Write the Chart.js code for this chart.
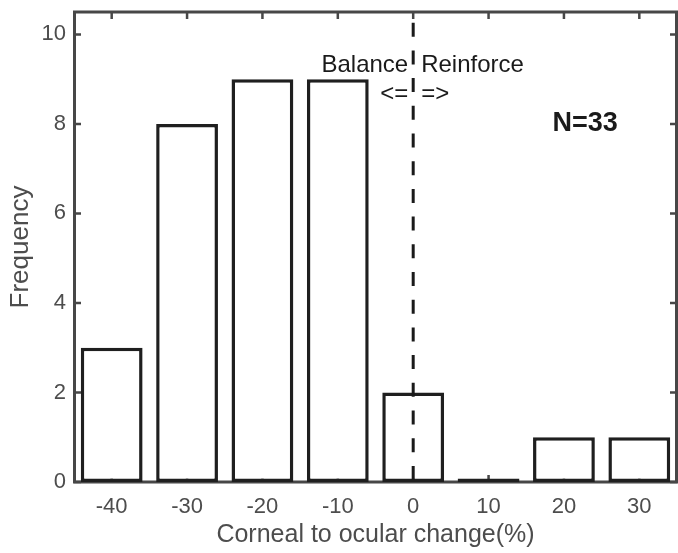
<!DOCTYPE html>
<html>
<head>
<meta charset="utf-8">
<script src="https://cdn.jsdelivr.net/npm/chart.js@4.4.1/dist/chart.umd.min.js"></script>
<style>
    html, body { margin: 0; padding: 0; background: #fff; }
</style>
</head>
<body>
<canvas id="hist" width="678" height="553"></canvas>
<script>
const binCenters = [-40, -30, -20, -10, 0, 10, 20, 30];
const counts = [3, 8, 9, 9, 2, 0, 1, 1];
const xTicks = [-40, -30, -20, -10, 0, 10, 20, 30];
const yTicks = [0, 2, 4, 6, 8, 10];
const xRange = [-45, 35];
const yRange = [0, 10.5];
const splitAt = 0;

// annotation texts, positioned in data units
const notes = [
    { text: 'Balance', x: 0, y: 9.16, side: -1, base: 'alphabetic' },
    { text: 'Reinforce', x: 0, y: 9.16, side: 1, base: 'alphabetic' },
    { text: '<=', x: 0, y: 8.65, side: -1, base: 'middle' },
    { text: '=>', x: 0, y: 8.65, side: 1, base: 'middle' }
];
const nLabel = { text: 'N=33', x: 22.8, y: 8.0 };

const axisColor = '#474747';
const textColor = '#4d4d4d';
const barColor = '#1f1f1f';
const fontFamily = "'Liberation Sans', Arial, sans-serif";

const fixedTicks = arr => scale => { scale.ticks = arr.map(v => ({ value: v })); };

// box, inner ticks, dashed split line and labels
const decor = {
    id: 'decor',
    beforeDatasetsDraw(chart) {
        const { ctx, chartArea: a, scales: { x, y } } = chart;
        ctx.save();
        ctx.strokeStyle = axisColor;
        ctx.lineWidth = 3;
        ctx.strokeRect(a.left + 0.5, a.top, a.right - a.left - 1, a.bottom - a.top);
        ctx.lineWidth = 2.5;
        const len = 7;
        ctx.beginPath();
        for (const v of xTicks) {
            const px = x.getPixelForValue(v);
            ctx.moveTo(px, a.bottom); ctx.lineTo(px, a.bottom - len);
            ctx.moveTo(px, a.top); ctx.lineTo(px, a.top + len);
        }
        for (const v of yTicks) {
            const py = y.getPixelForValue(v);
            ctx.moveTo(a.left, py); ctx.lineTo(a.left + len, py);
            ctx.moveTo(a.right, py); ctx.lineTo(a.right - len, py);
        }
        ctx.stroke();
        ctx.restore();
    },
    afterDatasetsDraw(chart) {
        const { ctx, chartArea: a, scales: { x, y } } = chart;
        ctx.save();
        const x0 = x.getPixelForValue(splitAt);
        ctx.strokeStyle = '#1a1a1a';
        ctx.lineWidth = 3;
        ctx.setLineDash([14, 13.7]);
        ctx.lineDashOffset = 17;
        ctx.beginPath();
        ctx.moveTo(x0, a.top);
        ctx.lineTo(x0, a.bottom);
        ctx.stroke();
        ctx.setLineDash([]);

        ctx.fillStyle = '#1a1a1a';
        ctx.font = '24px ' + fontFamily;
        for (const n of notes) {
            const px = x.getPixelForValue(n.x);
            ctx.textAlign = n.side < 0 ? 'right' : 'left';
            ctx.textBaseline = n.base;
            ctx.fillText(n.text, px + (n.side < 0 ? -5 : 8), y.getPixelForValue(n.y));
        }
        ctx.font = 'bold 27px ' + fontFamily;
        ctx.textAlign = 'center';
        ctx.textBaseline = 'middle';
        ctx.fillText(nLabel.text, x.getPixelForValue(nLabel.x), y.getPixelForValue(nLabel.y));
        ctx.restore();
    }
};

new Chart(document.getElementById('hist'), {
    type: 'bar',
    data: {
        datasets: [{
            data: binCenters.map((c, i) => ({ x: c, y: counts[i] })),
            backgroundColor: '#ffffff',
            borderColor: barColor,
            borderWidth: 3.5,
            borderSkipped: false,
            minBarLength: 3.5,
            barPercentage: 0.82,
            categoryPercentage: 1.0
        }]
    },
    options: {
        responsive: false,
        animation: false,
        layout: { padding: { top: 12, right: 1, left: 0, bottom: 0 } },
        plugins: { legend: { display: false }, tooltip: { enabled: false } },
        scales: {
            x: {
                type: 'linear',
                min: xRange[0],
                max: xRange[1],
                offset: false,
                grid: { display: false, drawTicks: false },
                border: { display: false },
                afterBuildTicks: fixedTicks(xTicks),
                afterFit: s => { s.height = 71; s.paddingLeft = 0; s.paddingRight = 0; },
                ticks: { padding: 12, color: textColor, font: { family: fontFamily, size: 22 } },
                title: {
                    display: true,
                    text: 'Corneal to ocular change(%)',
                    color: textColor,
                    font: { family: fontFamily, size: 25 },
                    padding: { top: 0, bottom: 3 }
                }
            },
            y: {
                min: yRange[0],
                max: yRange[1],
                grid: { display: false, drawTicks: false },
                border: { display: false },
                afterBuildTicks: fixedTicks(yTicks),
                afterFit: s => { s.width = 74; s.paddingTop = 0; s.paddingBottom = 0; },
                ticks: { padding: 8, color: textColor, font: { family: fontFamily, size: 22 } },
                title: {
                    display: true,
                    text: 'Frequency',
                    color: textColor,
                    font: { family: fontFamily, size: 26 },
                    padding: { top: 5, bottom: 0 }
                }
            }
        }
    },
    plugins: [decor]
});
</script>
</body>
</html>
